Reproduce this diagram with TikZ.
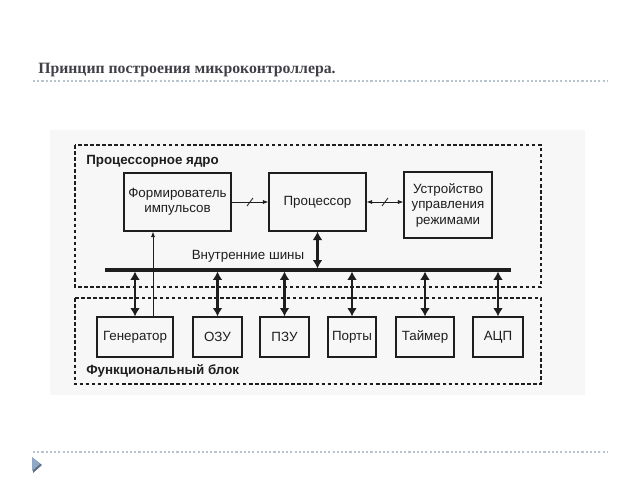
\documentclass[tikz,border=0pt]{standalone}
\usepackage{fontspec}
\setmainfont{Liberation Serif}
\setsansfont{Liberation Sans}
\usetikzlibrary{arrows.meta,calc}

\newcommand{\pxl}{0.025cm}
\definecolor{slidetitle}{HTML}{404048}
\definecolor{slidedots}{HTML}{B8C4CE}
\definecolor{bulletblue}{HTML}{8FA8C4}
\definecolor{bulletshade}{HTML}{5E6E80}
\definecolor{scanink}{HTML}{1E1E1E}
\definecolor{scanpaper}{HTML}{F7F7F7}

\tikzset{
  unitbox/.style={draw=scanink, line width=0.8pt, inner sep=0pt, align=center,
    text=scanink, font=\sffamily\fontsize{9.5}{11}\selectfont},
  groupbox/.style={draw=scanink, line width=0.8pt, dash pattern=on 2.5pt off 1.8pt},
  grouplabel/.style={anchor=west, inner sep=0pt, text=scanink,
    font=\sffamily\bfseries\fontsize{9.5}{11}\selectfont},
  busarrow/.style={{Latex[length=6pt,width=7pt]}-{Latex[length=6pt,width=7pt]},
    line width=1.6pt, draw=scanink},
  thinarrow/.style={-{Latex[length=4pt,width=3pt]}, line width=0.6pt, draw=scanink},
  slidedotted/.style={draw=slidedots, line width=0.8pt, dash pattern=on 1.5pt off 1.5pt}
}

\begin{document}
\begin{tikzpicture}[x=\pxl, y=-\pxl]
  \useasboundingbox (0,0) rectangle (640,480);
  \fill[white] (0,0) rectangle (640,480);

  % slide frame
  \node[anchor=base west, inner sep=0pt, text=slidetitle,
    font=\bfseries\fontsize{11.2}{13}\selectfont] (title) at (38,73)
    {Принцип построения микроконтроллера.};
  \draw[slidedotted] (33,81) -- (607,81);
  \draw[slidedotted] (33,452) -- (607,452);
  \fill[bulletshade] (33,458) -- (42,465) -- (33,473) -- cycle;
  \fill[bulletblue] (32,457) -- (40,464) -- (32,471) -- cycle;

  % scanned figure
  \fill[scanpaper] (50,130) rectangle (585,395);
  \draw[groupbox] (75,145) rectangle (541,287);
  \draw[groupbox] (75,298) rectangle (541,384);
  \node[grouplabel] (coretitle) at (86,161) {Процессорное ядро};
  \node[grouplabel] (blocktitle) at (86,371) {Функциональный блок};

  \node[unitbox, minimum width=107*\pxl, minimum height=58*\pxl] (form) at (177.5,202)
    {Формирователь\\импульсов};
  \node[unitbox, minimum width=97*\pxl, minimum height=58*\pxl] (cpu) at (317.5,202)
    {Процессор};
  \node[unitbox, minimum width=88*\pxl, minimum height=66*\pxl] (mode) at (448,205)
    {Устройство\\управления\\режимами};

  \node[unitbox, minimum width=76*\pxl, minimum height=40*\pxl] (gen) at (135,337) {Генератор};
  \node[unitbox, minimum width=49*\pxl, minimum height=40*\pxl] (ram) at (217.5,337) {ОЗУ};
  \node[unitbox, minimum width=49*\pxl, minimum height=40*\pxl] (rom) at (284.5,337) {ПЗУ};
  \node[unitbox, minimum width=48*\pxl, minimum height=40*\pxl] (ports) at (352,337) {Порты};
  \node[unitbox, minimum width=58*\pxl, minimum height=40*\pxl] (timer) at (425,337) {Таймер};
  \node[unitbox, minimum width=50*\pxl, minimum height=40*\pxl] (adc) at (498,337) {АЦП};

  % bus
  \coordinate (busL) at (105,270);
  \coordinate (busR) at (511,270);
  \draw[scanink, line width=2.2pt] (busL) -- (busR);
  \node[inner sep=0pt, text=scanink, font=\sffamily\fontsize{9.5}{11}\selectfont]
    (buslabel) at (248,256) {Внутренние шины};

  \draw[busarrow] (cpu.south) -- ($(cpu.south |- busL)+(0,-1.5)$);
  \foreach \blk in {gen,ram,rom,ports,timer,adc}
    \draw[busarrow] ($(\blk.north |- busL)+(0,1.5)$) -- (\blk.north);

  % clock and control lines
  \coordinate (clk) at (153,0);
  \draw[thinarrow] (gen.north -| clk) -- (form.south -| clk);
  \draw[thinarrow] (form.east) -- (cpu.west);
  \draw[scanink, line width=0.6pt] ($(form.east)!0.5!(cpu.west)+(-3,4)$)
    -- ($(form.east)!0.5!(cpu.west)+(3,-4)$);
  \draw[thinarrow, {Latex[length=4pt,width=3pt]}-{Latex[length=4pt,width=3pt]}]
    (cpu.east) -- (cpu.east -| mode.west);
  \draw[scanink, line width=0.6pt] ($(cpu.east)!0.5!(cpu.east -| mode.west)+(-3,4)$)
    -- ($(cpu.east)!0.5!(cpu.east -| mode.west)+(3,-4)$);
\end{tikzpicture}
\end{document}
